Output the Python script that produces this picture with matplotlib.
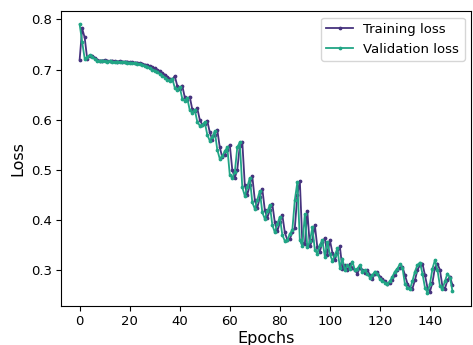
import numpy as np
import matplotlib
matplotlib.use("Agg")
import matplotlib.pyplot as plt

# Loss per epoch
train_loss = [
    0.720, 0.782, 0.764, 0.722, 0.727, 0.728, 0.724, 0.720, 0.718, 0.718,
    0.719, 0.718, 0.717, 0.718, 0.717, 0.716, 0.717, 0.716, 0.716, 0.716,
    0.715, 0.715, 0.714, 0.714, 0.713, 0.712, 0.710, 0.709, 0.707, 0.705,
    0.703, 0.700, 0.697, 0.693, 0.690, 0.686, 0.682, 0.680, 0.687, 0.668,
    0.662, 0.668, 0.645, 0.640, 0.646, 0.621, 0.617, 0.623, 0.600, 0.590,
    0.592, 0.598, 0.575, 0.560, 0.570, 0.580, 0.545, 0.525, 0.530, 0.540,
    0.550, 0.500, 0.484, 0.500, 0.548, 0.556, 0.470, 0.450, 0.470, 0.487,
    0.440, 0.424, 0.445, 0.462, 0.420, 0.404, 0.420, 0.432, 0.395, 0.377,
    0.395, 0.410, 0.375, 0.360, 0.362, 0.375, 0.384, 0.450, 0.478, 0.354,
    0.352, 0.418, 0.347, 0.360, 0.390, 0.345, 0.337, 0.355, 0.364, 0.330,
    0.360, 0.335, 0.320, 0.335, 0.347, 0.303, 0.310, 0.300, 0.312, 0.305,
    0.300, 0.293, 0.305, 0.300, 0.295, 0.300, 0.290, 0.283, 0.292, 0.296,
    0.287, 0.282, 0.278, 0.273, 0.274, 0.280, 0.290, 0.300, 0.305, 0.307,
    0.290, 0.273, 0.265, 0.263, 0.280, 0.300, 0.310, 0.313, 0.290, 0.265,
    0.257, 0.275, 0.305, 0.313, 0.300, 0.267, 0.263, 0.280, 0.287, 0.270,
]
val_loss = [
    0.790, 0.755, 0.722, 0.725, 0.729, 0.726, 0.721, 0.718, 0.717, 0.718,
    0.717, 0.716, 0.717, 0.716, 0.715, 0.716, 0.715, 0.715, 0.715, 0.714,
    0.714, 0.713, 0.713, 0.712, 0.711, 0.709, 0.708, 0.706, 0.703, 0.700,
    0.698, 0.695, 0.691, 0.688, 0.684, 0.680, 0.678, 0.682, 0.664, 0.660,
    0.665, 0.642, 0.638, 0.643, 0.619, 0.614, 0.620, 0.596, 0.588, 0.590,
    0.595, 0.570, 0.558, 0.566, 0.577, 0.540, 0.522, 0.527, 0.537, 0.545,
    0.490, 0.484, 0.495, 0.545, 0.555, 0.465, 0.448, 0.466, 0.484, 0.435,
    0.422, 0.440, 0.458, 0.415, 0.402, 0.417, 0.430, 0.390, 0.375, 0.392,
    0.406, 0.370, 0.358, 0.360, 0.372, 0.380, 0.440, 0.475, 0.360, 0.348,
    0.412, 0.345, 0.357, 0.385, 0.340, 0.333, 0.350, 0.360, 0.327, 0.355,
    0.332, 0.318, 0.330, 0.343, 0.305, 0.323, 0.300, 0.310, 0.303, 0.317,
    0.300, 0.303, 0.310, 0.297, 0.300, 0.292, 0.285, 0.290, 0.297, 0.293,
    0.282, 0.278, 0.275, 0.272, 0.278, 0.287, 0.297, 0.303, 0.312, 0.305,
    0.272, 0.265, 0.262, 0.278, 0.297, 0.310, 0.315, 0.293, 0.265, 0.255,
    0.272, 0.303, 0.320, 0.300, 0.268, 0.262, 0.278, 0.293, 0.285, 0.258,
]
epochs = np.arange(len(train_loss))

fig, ax = plt.subplots(figsize=(4.73, 3.45), dpi=100)
fig.subplots_adjust(left=0.129, right=0.996, top=0.968, bottom=0.113)

ax.plot(epochs, train_loss, color='#46337e', marker='o', markersize=1.7,
        linewidth=1.3, label='Training loss')
ax.plot(epochs, val_loss, color='#21a585', marker='o', markersize=1.7,
        linewidth=1.3, label='Validation loss')

ax.set_xlabel('Epochs', fontsize=11.5, labelpad=2)
ax.set_ylabel('Loss', fontsize=11.5, labelpad=4)
ax.tick_params(labelsize=9.5, pad=3)
ax.legend(loc='upper right', fontsize=9.5)

plt.savefig('out.png', dpi=100)
